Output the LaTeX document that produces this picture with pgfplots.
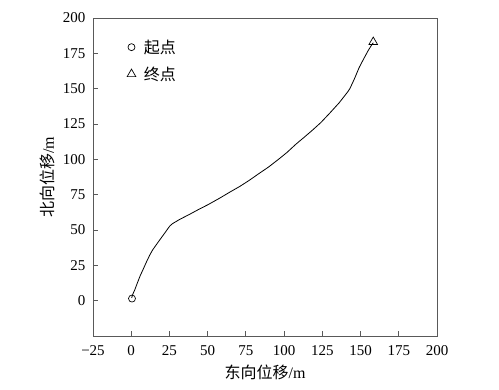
\documentclass[border=0pt]{standalone}
\usepackage{fontspec}
\setmainfont{Liberation Serif}
\newfontfamily\cjk{Noto Sans CJK SC}
\usepackage{pgfplots}
\pgfplotsset{compat=1.18}
\usetikzlibrary{calc}
\begin{document}
\begin{tikzpicture}
\begin{axis}[
 scale only axis, width=344pt, height=318pt,
 xmin=-25, xmax=200, ymin=-25, ymax=200,
 xtick={-25,0,25,50,75,100,125,150,175,200},
 xticklabels={−25,0,25,50,75,100,125,150,175,200},
 ytick={0,25,50,75,100,125,150,175,200},
 tick align=inside, xtick pos=bottom, ytick pos=left,
 major tick length=5pt,
 axis line style={black!65, line width=0.8pt},
 every tick/.style={black!65, line width=0.8pt},
 tick label style={font=\fontsize{15}{15}\selectfont, text=black},
 xticklabel style={yshift=-6pt},
 yticklabel style={xshift=-4pt},
 /pgf/number format/assume math mode=true,
 xlabel={{\cjk 东向位移}/m},
 ylabel={{\cjk 北向位移}/m},
 xlabel style={yshift=-2pt},
 ylabel style={yshift=1pt},
 label style={font=\fontsize{16}{16}\selectfont},
 legend style={draw=none, fill=none, at={(0.09,0.945)}, anchor=north west, font=\fontsize{16}{16}\selectfont, row sep=8pt},
 legend cell align=left,
]
\addplot[black, line width=0.8pt, forget plot] coordinates {
(0.3,2) (1,4.5) (2.3,7.6) (4,12.5) (6,18) (7.6,21.7) (10,27.5) (12,32) (14,35.9)
(17,40.5) (20,45) (22.5,48.7) (24,51) (25.2,52.8) (27,54.5) (31.7,57.5) (38,61)
(44.7,64.9) (50,67.8) (57.8,72.5) (64,76.5) (70.8,80.7) (77,85) (83.9,90.2)
(90,94.7) (96.9,100.5) (102,105) (107.8,110.8) (113,115.5) (118.7,120.8)
(124,126) (129.6,132.4) (136,140) (141.5,147.6) (143,150) (146,157) (149.1,165)
(152,171) (155,177) (157,180.5) (158.3,182.5)
};
\addplot[only marks, mark=o, mark size=3.5pt, black, line width=0.7pt] coordinates {(0.5,1.5)};
\addlegendentry{\hspace{6pt}{\cjk 起点}}
\addplot[only marks, mark=triangle, mark size=5pt, black, line width=0.7pt] coordinates {(158.3,183)};
\addlegendentry{\hspace{6pt}{\cjk 终点}}
\end{axis}
\path ($(current axis.south west)+(-93pt,-53pt)$) rectangle ($(current axis.north east)+(62pt,18pt)$);
\end{tikzpicture}
\end{document}
